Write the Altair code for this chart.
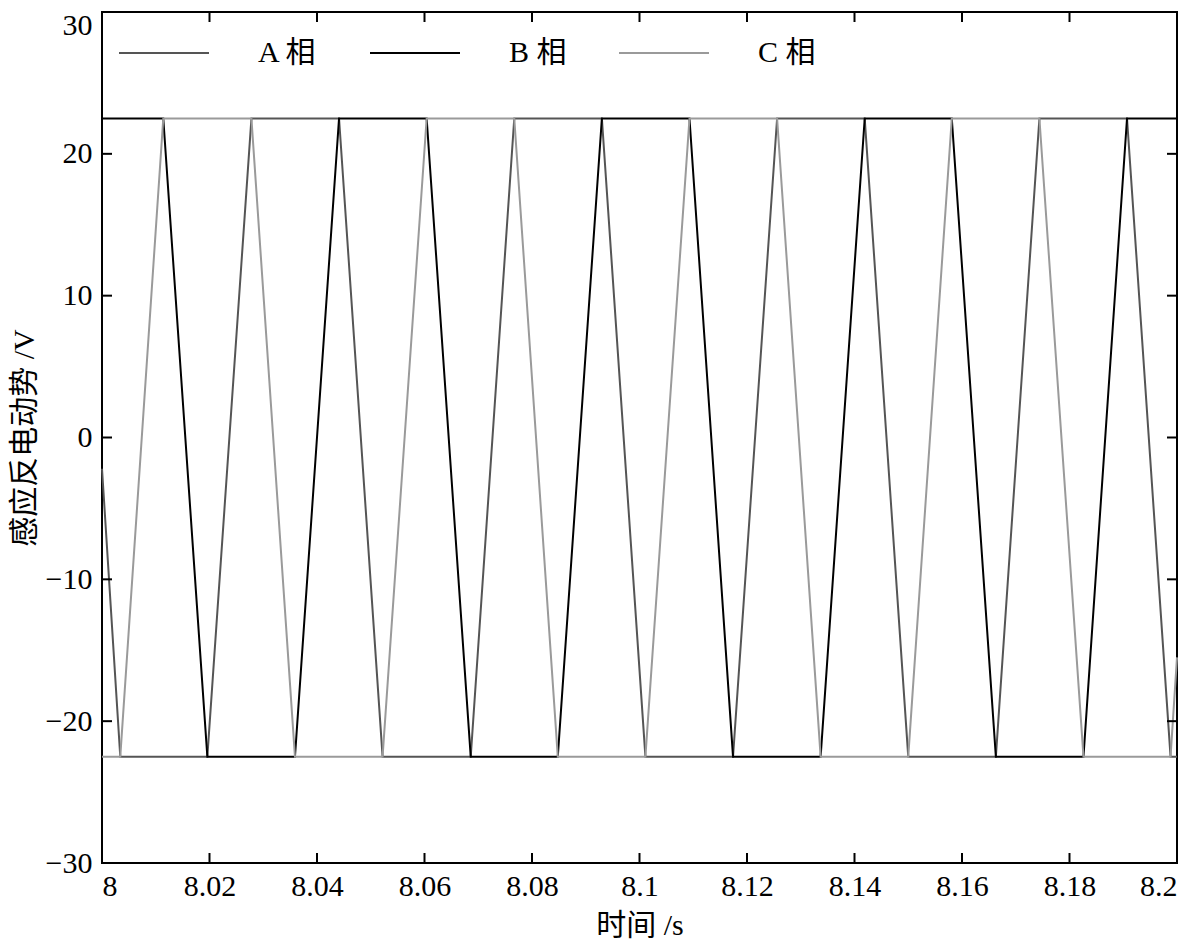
import altair as alt
import pandas as pd

# ---- data ----
A_t = [8.0, 8.0034, 8.0196, 8.0278, 8.0441, 8.0522, 8.0686, 8.0767, 8.0930, 8.1011,
       8.1174, 8.1256, 8.1419, 8.1500, 8.1663, 8.1744, 8.1907, 8.1988, 8.2]
A_v = [-2.2, -22.5, -22.5, 22.5, 22.5, -22.5, -22.5, 22.5, 22.5, -22.5,
       -22.5, 22.5, 22.5, -22.5, -22.5, 22.5, 22.5, -22.5, -22.5]

B_t = [8.0, 8.0114, 8.0196, 8.0359, 8.0441, 8.0604, 8.0686, 8.0848, 8.0930, 8.1093,
       8.1174, 8.1337, 8.1419, 8.1581, 8.1663, 8.1826, 8.1907, 8.2]
B_v = [22.5, 22.5, -22.5, -22.5, 22.5, 22.5, -22.5, -22.5, 22.5, 22.5,
       -22.5, -22.5, 22.5, 22.5, -22.5, -22.5, 22.5, 22.5]

C_t = [8.0, 8.0034, 8.0114, 8.0278, 8.0359, 8.0522, 8.0604, 8.0767, 8.0848, 8.1011,
       8.1093, 8.1256, 8.1337, 8.1500, 8.1581, 8.1744, 8.1826, 8.1988, 8.2]
C_v = [-22.5, -22.5, 22.5, 22.5, -22.5, -22.5, 22.5, 22.5, -22.5, -22.5,
       22.5, 22.5, -22.5, -22.5, 22.5, 22.5, -22.5, -22.5, -15.5]

series_names = ["A 相", "B 相", "C 相"]
series_colors = ["#555555", "#000000", "#9a9a9a"]

x_ticks = [8.0, 8.02, 8.04, 8.06, 8.08, 8.1, 8.12, 8.14, 8.16, 8.18, 8.2]
y_ticks = [-30, -20, -10, 0, 10, 20, 30]

x_title = "时间 /s"
y_title = "感应反电动势 /V"

# ---- build tables ----
rows = []
for name, ts, vs in zip(series_names, [A_t, B_t, C_t], [A_v, B_v, C_v]):
    for i, (t, v) in enumerate(zip(ts, vs)):
        rows.append({"t": t, "v": v, "phase": name, "idx": i})
df = pd.DataFrame(rows)
xt = pd.DataFrame({"t": x_ticks})
yt = pd.DataFrame({"v": y_ticks})

W, H = 1075, 851
TICK = 10
FONT = "'Liberation Serif', 'Noto Sans CJK SC', serif"

xscale = alt.Scale(domain=[8.0, 8.2], nice=False, zero=False)
yscale = alt.Scale(domain=[-30, 30], nice=False, zero=False)
xaxis = alt.Axis(title=x_title, values=x_ticks, format="~g", ticks=False,
                 domain=False, grid=False, labelPadding=8, titlePadding=9,
                 labelFont=FONT, labelFontSize=30, labelColor="black",
                 titleFont=FONT, titleFontSize=30, titleColor="black",
                 titleFontWeight="normal")
yaxis = alt.Axis(title=y_title, values=y_ticks, ticks=False, domain=False,
                 grid=False, labelPadding=10, titlePadding=6,
                 labelFont=FONT, labelFontSize=30, labelColor="black",
                 labelOffset={"condition": {"test": "datum.value === 30", "value": 13},
                              "value": 0},
                 titleFont=FONT, titleFontSize=30, titleColor="black",
                 titleFontWeight="normal")

lines = alt.Chart(df).mark_line(strokeWidth=2).encode(
    x=alt.X("t:Q", scale=xscale, axis=xaxis, title=x_title),
    y=alt.Y("v:Q", scale=yscale, axis=yaxis, title=y_title),
    color=alt.Color("phase:N",
                    scale=alt.Scale(domain=series_names, range=series_colors),
                    legend=alt.Legend(title=None, orient="none", legendX=16, legendY=-5,
                                      direction="horizontal", symbolType="stroke",
                                      symbolSize=8100, symbolStrokeWidth=2,
                                      labelFontSize=30, labelFont=FONT, labelOffset=48,
                                      labelColor="black",
                                      columnPadding=48, padding=0)),
    order="idx:Q",
)

bottom_ticks = alt.Chart(xt).mark_rule(color="black", strokeWidth=2).encode(
    x=alt.X("t:Q", scale=xscale, axis=xaxis, title=x_title),
    y=alt.value(H), y2=alt.value(H - TICK))
top_ticks = alt.Chart(xt).mark_rule(color="black", strokeWidth=2).encode(
    x=alt.X("t:Q", scale=xscale, axis=xaxis, title=x_title),
    y=alt.value(0), y2=alt.value(TICK))
left_ticks = alt.Chart(yt).mark_rule(color="black", strokeWidth=2).encode(
    y=alt.Y("v:Q", scale=yscale, axis=yaxis, title=y_title),
    x=alt.value(0), x2=alt.value(TICK))
right_ticks = alt.Chart(yt).mark_rule(color="black", strokeWidth=2).encode(
    y=alt.Y("v:Q", scale=yscale, axis=yaxis, title=y_title),
    x=alt.value(W - TICK), x2=alt.value(W))

chart = alt.layer(lines, bottom_ticks, top_ticks, left_ticks, right_ticks).properties(
    width=W, height=H,
    autosize=alt.AutoSizeParams(type="none"),
    padding={"left": 94, "top": 4, "right": 13, "bottom": 80},
    background="white",
).configure_view(
    stroke="black", strokeWidth=2
)

chart.save("out.html", embed_options={"renderer": "svg", "actions": False})
